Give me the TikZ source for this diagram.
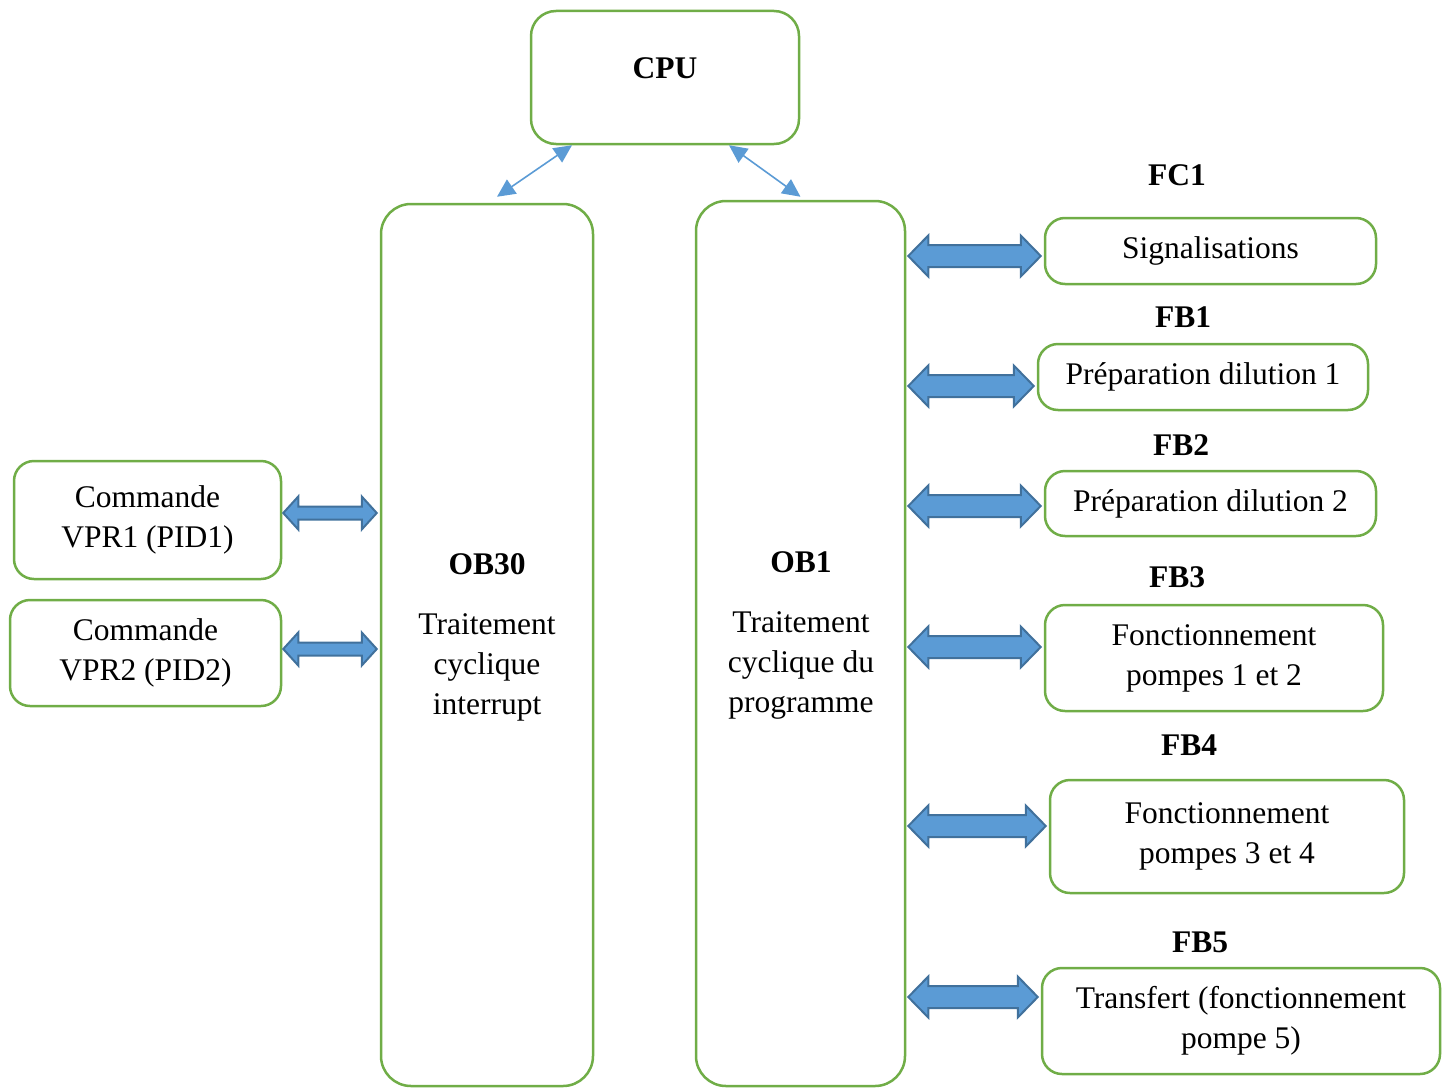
\documentclass[tikz,border=0pt]{standalone}
\usepackage{fontspec}
\setmainfont{Liberation Serif}
\usetikzlibrary{calc,arrows.meta}

\definecolor{boxgreen}{HTML}{70AD47}
\definecolor{linkblue}{HTML}{5B9BD5}
\definecolor{linkedge}{HTML}{41719C}

% fat double arrow: #1,#2 tips, #3 half shaft, #4 half head, #5 head length
\newcommand{\fatarrow}[5]{%
  \draw[fatlink] (#1) -- ($(#1)+(#5,-#4)$) -- ($(#1)+(#5,-#3)$)
    -- ($(#2)+(-#5,-#3)$) -- ($(#2)+(-#5,-#4)$) -- (#2)
    -- ($(#2)+(-#5,#4)$) -- ($(#2)+(-#5,#3)$)
    -- ($(#1)+(#5,#3)$) -- ($(#1)+(#5,#4)$) -- cycle;}

\begin{document}
\begin{tikzpicture}[x=1pt,y=-1pt,
  every node/.style={font=\fontsize{31.5}{40}\selectfont},
  box/.style={draw=boxgreen,line width=2.5pt,rounded corners=20pt,align=center,inner sep=0pt},
  bigbox/.style={box,rounded corners=30pt},
  lbl/.style={font=\fontsize{31.5}{40}\selectfont\bfseries},
  link/.style={linkblue,line width=1.6pt,
    {Triangle[length=18pt,width=17pt]}-{Triangle[length=18pt,width=17pt]}},
  fatlink/.style={fill=linkblue,draw=linkedge,line width=2pt,line join=miter}]

\useasboundingbox (0,0) rectangle (1450,1089);

% main blocks
\node[bigbox,rounded corners=25pt,minimum width=268pt,minimum height=133pt] (cpu) at (665,77.5) {};
\node[lbl] (cputxt) at (665,68) {CPU};
\node[bigbox,minimum width=212pt,minimum height=882pt] (ob30) at (487,645) {};
\node[align=center] (ob30txt) at (487,637) {\textbf{OB30}\\[20pt]Traitement\\cyclique\\interrupt};
\node[bigbox,minimum width=209pt,minimum height=885pt] (ob1) at (800.5,643.5) {};
\node[align=center] (ob1txt) at (801,635) {\textbf{OB1}\\[20pt]Traitement\\cyclique du\\programme};

% CPU links
\draw[link] ([xshift=-93pt]cpu.south) -- ([shift={(10,-6)}]ob30.north);
\draw[link] ([xshift=64pt]cpu.south) -- ([shift={(0,-3)}]ob1.north);

% function blocks called by OB1
\node[box,minimum width=331pt,minimum height=66pt] (sig) at (1210.5,251) {Signalisations};
\node[box,minimum width=330pt,minimum height=66pt] (prep1) at (1203,377) {Préparation dilution 1};
\node[box,minimum width=331pt,minimum height=65pt] (prep2) at (1210.5,503.5) {Préparation dilution 2};
\node[box,minimum width=338pt,minimum height=106pt] (pompes12) at (1214,658) {Fonctionnement\\pompes 1 et 2};
\node[box,minimum width=354pt,minimum height=113pt] (pompes34) at (1227,836.5) {Fonctionnement\\pompes 3 et 4};
\node[box,minimum width=398pt,minimum height=106pt] (transfert) at (1241,1021) {Transfert (fonctionnement\\pompe 5)};

\foreach \t/\x/\y in {FC1/1177/175, FB1/1183/317, FB2/1181/445, FB3/1177/577, FB4/1189/745, FB5/1200/942}
  \node[lbl] (\t) at (\x,\y) {\t};

% blocks called by OB30
\node[box,minimum width=267pt,minimum height=118pt] (vpr1) at (147.5,520) {Commande\\VPR1 (PID1)};
\node[box,minimum width=271pt,minimum height=106pt] (vpr2) at (145.5,653) {Commande\\VPR2 (PID2)};

% exchanges
\foreach \b/\yy in {sig/256, prep1/386, prep2/506, pompes12/647, pompes34/826, transfert/997} {
  \coordinate (s) at ([xshift=2pt]ob1.east |- 0,\yy);
  \coordinate (e) at ([xshift=-3pt]\b.west |- 0,\yy);
  \fatarrow{s}{e}{11}{20.5}{20}
}
\foreach \b/\yy in {vpr1/513, vpr2/649} {
  \coordinate (s) at ([xshift=1pt]\b.east |- 0,\yy);
  \coordinate (e) at ([xshift=-3pt]ob30.west |- 0,\yy);
  \fatarrow{s}{e}{6.5}{16.5}{15}
}
\end{tikzpicture}
\end{document}
